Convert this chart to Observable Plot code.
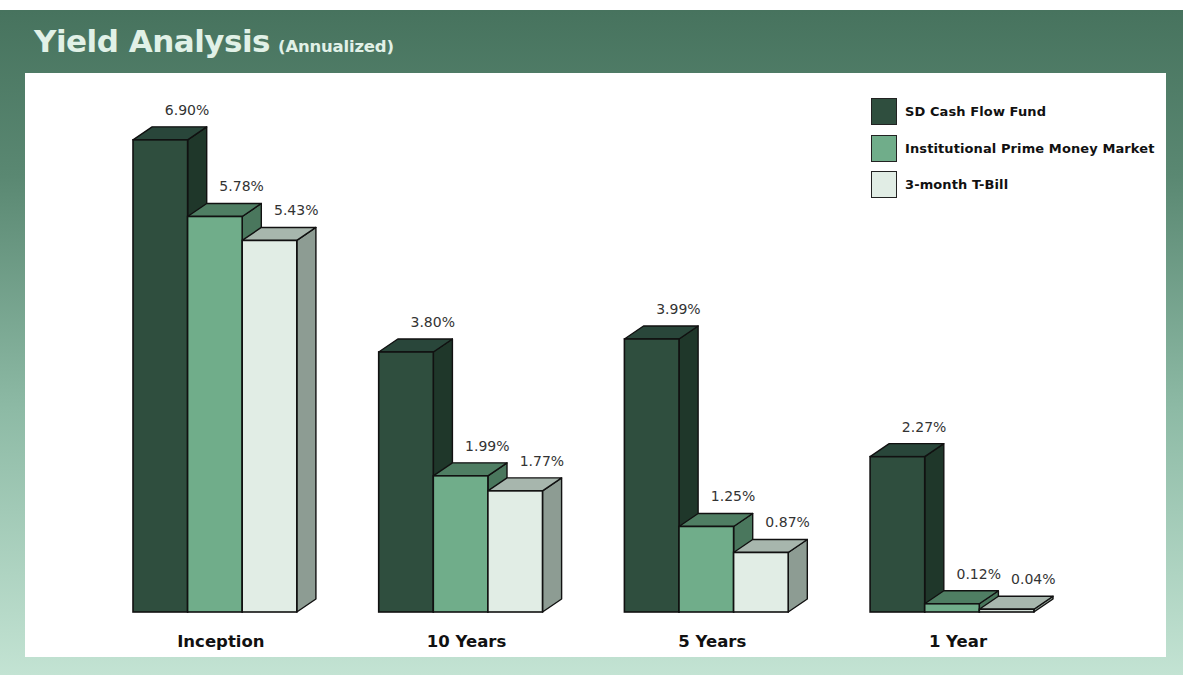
<!DOCTYPE html>
<html>
<head>
<meta charset="utf-8">
<script src="https://cdn.jsdelivr.net/npm/d3@7"></script>
<script src="https://cdn.jsdelivr.net/npm/@observablehq/plot@0.6"></script>
<style>
  html, body { margin: 0; padding: 0; background: #fff; }
  #frame { position: absolute; left: 0; top: 10px; width: 1183px; height: 665px;
    background: linear-gradient(to bottom, #47735e 0%, #5a8872 25%, #8dbaa5 60%, #c3e3d3 100%); }
  #title { position: absolute; left: 34px; top: 23px; color: #e1f1e7; font-family: "DejaVu Sans", sans-serif;
    font-weight: bold; white-space: nowrap; }
  #title .main { font-size: 31px; letter-spacing: -0.5px; }
  #title .sub { font-size: 16.5px; margin-left: 8px; letter-spacing: -0.2px; }
  #panel { position: absolute; left: 25px; top: 73px; width: 1141px; height: 584px; background: #fff; }
  #legend { position: absolute; left: 871px; top: 98px; font-family: "DejaVu Sans", sans-serif;
    font-weight: bold; font-size: 13px; color: #111; }
  .item { position: relative; height: 36.5px; }
  .sw { position: absolute; left: 0; top: 0; width: 24px; height: 25px; border: 1.5px solid #222; }
  .lab { position: absolute; left: 34px; top: 6px; white-space: nowrap; letter-spacing: 0.1px; }
</style>
</head>
<body>
<div id="frame"></div>
<div id="title"><span class="main">Yield Analysis</span><span class="sub">(Annualized)</span></div>
<div id="panel"></div>
<div id="legend"></div>
<script>
const periods = ["Inception", "10 Years", "5 Years", "1 Year"];
const series = ["SD Cash Flow Fund", "Institutional Prime Money Market", "3-month T-Bill"];
const fundValues   = [6.90, 3.80, 3.99, 2.27];
const primeValues  = [5.78, 1.99, 1.25, 0.12];
const tbillValues  = [5.43, 1.77, 0.87, 0.04];
const valueLabels  = [["6.90%","5.78%","5.43%"],["3.80%","1.99%","1.77%"],["3.99%","1.25%","0.87%"],["2.27%","0.12%","0.04%"]];

const frontColors = ["#2f4e3e", "#70ad8a", "#e1ede5"];
const topColors   = ["#29463a", "#4f7e63", "#a7b6ad"];
const sideColors  = ["#1f372a", "#4a775d", "#8d9c93"];

const groupStep = 4.5, depthX = 0.35, depthY = 0.19;
const allValues = [fundValues, primeValues, tbillValues];

const bars = [];
periods.forEach((p, g) => {
  series.forEach((s, i) => {
    const x0 = g * groupStep + i;
    bars.push({id: `${g}-${i}`, g, i, period: p, series: s, v: allValues[i][g], x0, x1: x0 + 1, label: valueLabels[g][i]});
  });
});

const tops = bars.flatMap(b => [
  {id: b.id, i: b.i, y: b.v, xa: b.x0, xb: b.x1},
  {id: b.id, i: b.i, y: b.v + depthY, xa: b.x0 + depthX, xb: b.x1 + depthX}
]);
const sides = bars.flatMap(b => [
  {id: b.id, i: b.i, x: b.x1, ya: 0, yb: b.v},
  {id: b.id, i: b.i, x: b.x1 + depthX, ya: depthY, yb: b.v + depthY}
]);
const shadows = bars.filter(b => b.i === 0).map(b => ({x1: b.x0, x2: b.x0 + 3}));

const W = 1141, H = 584;
const chart = Plot.plot({
  width: W, height: H,
  marginLeft: 108, marginRight: W - 108 - 17.5 * 54.6, marginTop: 60, marginBottom: 45,
  x: {domain: [0, 17.5], axis: null},
  y: {domain: [0, 7.0], axis: null},
  style: {background: "transparent", overflow: "visible"},
  marks: [
    Plot.rect(shadows, {x1: "x1", x2: "x2", y1: 0, y2: 0, dy: 2, stroke: "#b8b8b8", strokeWidth: 2}),
    Plot.areaY(sides, {x: "x", y1: "ya", y2: "yb", z: "id", fill: d => sideColors[d.i], stroke: "#111", strokeWidth: 1.4, strokeLinejoin: "round"}),
    Plot.areaX(tops, {y: "y", x1: "xa", x2: "xb", z: "id", fill: d => topColors[d.i], stroke: "#111", strokeWidth: 1.4, strokeLinejoin: "round"}),
    Plot.rect(bars, {x1: "x0", x2: "x1", y1: 0, y2: "v", fill: d => frontColors[d.i], stroke: "#111", strokeWidth: 1.6}),
    Plot.text(bars, {x: d => d.x0 + 0.5 + depthX + 0.13, y: d => d.v + depthY, text: "label", dy: -17,
      fontSize: 14, fill: "#333", fontFamily: "DejaVu Sans, sans-serif"}),
    Plot.text(periods, {x: (d, k) => k * groupStep + 1.6, y: () => 0, text: d => d, dy: 29,
      fontSize: 16.5, fontWeight: "bold", fill: "#111", fontFamily: "DejaVu Sans, sans-serif"})
  ]
});
document.getElementById("panel").appendChild(chart);

const legend = document.getElementById("legend");
series.forEach((s, i) => {
  const item = document.createElement("div");
  item.className = "item";
  item.innerHTML = `<div class="sw" style="background:${frontColors[i]}"></div><div class="lab">${s}</div>`;
  legend.appendChild(item);
});
</script>
</body>
</html>
